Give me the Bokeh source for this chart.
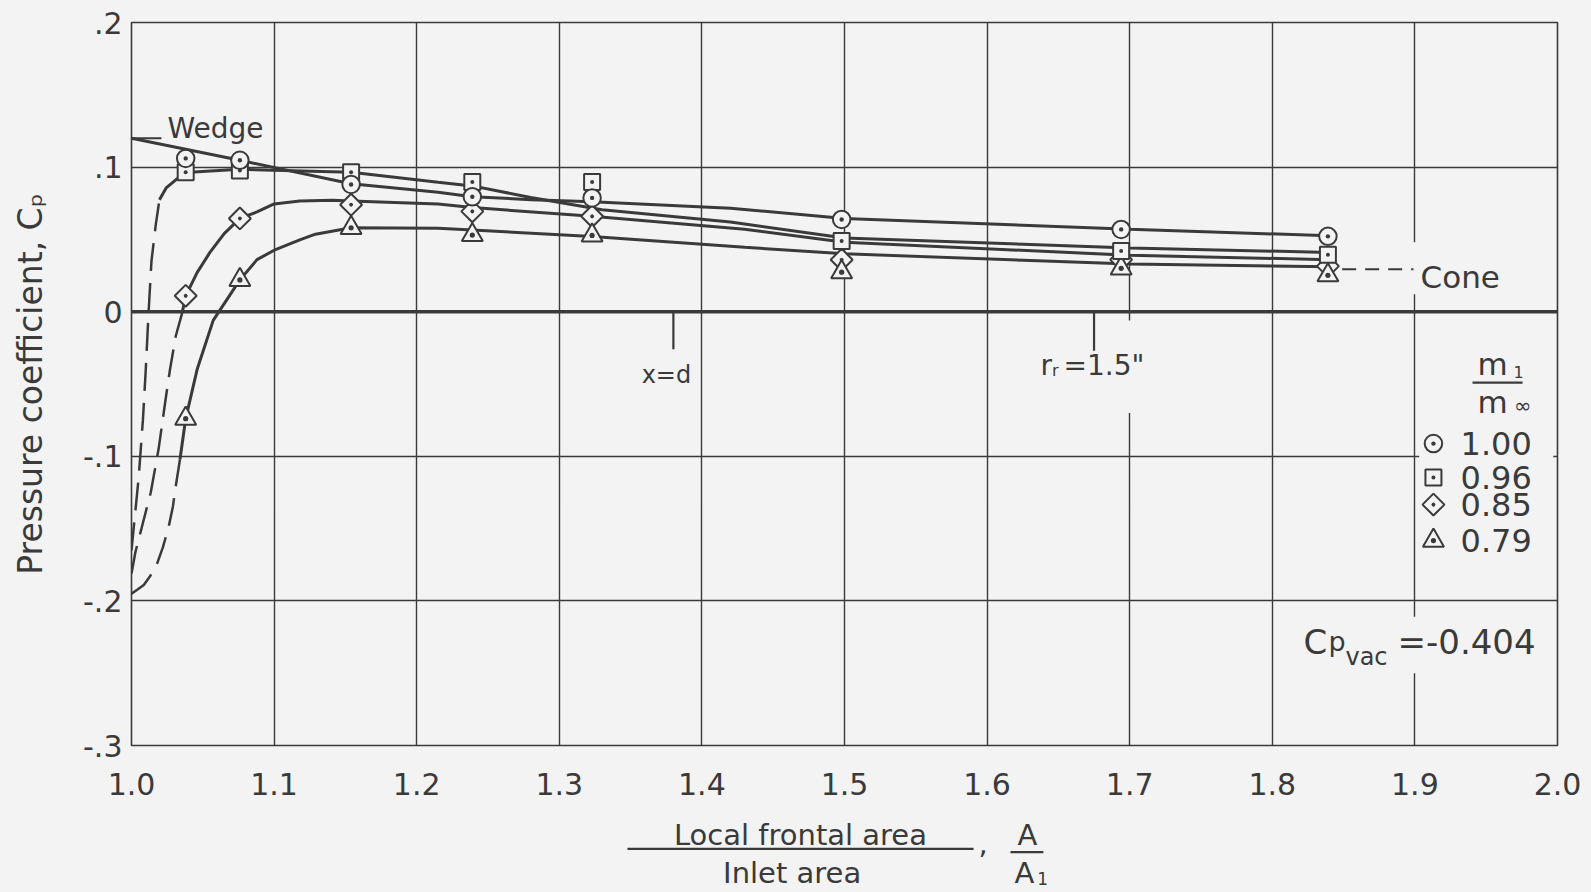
import math

from bokeh.core.properties import value
from bokeh.embed import file_html
from bokeh.layouts import column
from bokeh.models import Arrow, FixedTicker, Label, Span
from bokeh.plotting import figure
from bokeh.resources import INLINE

BG = "#f3f3f3"
INK = "#3a3a3a"
FONT = "DejaVu Sans"

# Orifice stations along the cowl: local frontal area / inlet area
area_ratio = [1.038, 1.076, 1.154, 1.239, 1.323, 1.498, 1.694, 1.839]

# Measured pressure coefficients, one list per inlet mass-flow ratio m1/m_inf
cp_m100 = [0.106, 0.1047, 0.088, 0.0795, 0.0787, 0.0638, 0.0569, 0.0521]
cp_m096 = [0.0965, 0.0977, 0.0965, 0.0897, 0.0897, 0.0489, 0.042, 0.0394]
cp_m085 = [0.011, 0.0645, 0.074, 0.0694, 0.066, 0.0359, 0.036, 0.0315]
cp_m079 = [-0.074, 0.022, 0.058, 0.053, 0.0527, 0.0273, 0.030, 0.0252]

mass_flow_labels = ["1.00", "0.96", "0.85", "0.79"]

# Faired curves through the data (solid) and their extrapolation to the lip (dashed)
fair_m100_x = [1.076, 1.154, 1.215, 1.239, 1.28, 1.323, 1.42, 1.50, 1.70, 1.84]
fair_m100_y = [0.1047, 0.0885, 0.0826, 0.0795, 0.0775, 0.076, 0.0715, 0.0645, 0.057, 0.0525]

lip_m096_x = [1.000, 1.002, 1.005, 1.008, 1.010, 1.012, 1.014, 1.017, 1.0196]
lip_m096_y = [-0.165, -0.145, -0.115, -0.075, -0.040, 0.000, 0.035, 0.060, 0.0775]
fair_m096_x = [1.0196, 1.0243, 1.0313, 1.038, 1.076, 1.154, 1.215, 1.239, 1.28, 1.33,
               1.42, 1.50, 1.70, 1.84]
fair_m096_y = [0.0775, 0.0856, 0.0914, 0.0962, 0.0985, 0.0965, 0.0895, 0.087, 0.079, 0.0705,
               0.062, 0.051, 0.044, 0.041]

lip_m085_x = [1.000, 1.0028, 1.0075, 1.0135, 1.019, 1.024, 1.027, 1.031, 1.0355]
lip_m085_y = [-0.181, -0.166, -0.148, -0.125, -0.095, -0.060, -0.040, -0.017, -0.001]
fair_m085_x = [1.0355, 1.038, 1.046, 1.055, 1.065, 1.076, 1.088, 1.10, 1.118, 1.141,
               1.154, 1.215, 1.239, 1.323, 1.43, 1.50, 1.70, 1.84]
fair_m085_y = [-0.001, 0.011, 0.027, 0.041, 0.054, 0.0645, 0.069, 0.0745, 0.0765, 0.077,
               0.0765, 0.0745, 0.072, 0.066, 0.057, 0.048, 0.039, 0.036]

lip_m079_x = [1.000, 1.0045, 1.0086, 1.013, 1.018, 1.022, 1.026, 1.029, 1.031, 1.034]
lip_m079_y = [-0.195, -0.192, -0.189, -0.183, -0.174, -0.163, -0.149, -0.135, -0.121, -0.102]
fair_m079_x = [1.034, 1.038, 1.046, 1.0573, 1.076, 1.088, 1.101, 1.118, 1.129, 1.154,
               1.215, 1.239, 1.323, 1.43, 1.50, 1.70, 1.84]
fair_m079_y = [-0.102, -0.074, -0.040, -0.006, 0.022, 0.036, 0.043, 0.0497, 0.0536, 0.058,
               0.0577, 0.0565, 0.052, 0.0445, 0.040, 0.033, 0.031]

# Two-dimensional (wedge) value at the lip
wedge_x = [1.000, 1.076]
wedge_y = [0.120, 0.1047]

# Conical-flow value at the rear of the cowl, and vacuum pressure coefficient
cone_cp = 0.0294
cp_vac = -0.404

# Stations marked on the axis: x = d and r_r = 1.5 in.
station_x = [1.38, 1.675]
station_tick = [-0.026, -0.027]

x_ticks = [1.0, 1.1, 1.2, 1.3, 1.4, 1.5, 1.6, 1.7, 1.8, 1.9, 2.0]
x_tick_labels = ["1.0", "1.1", "1.2", "1.3", "1.4", "1.5", "1.6", "1.7", "1.8", "1.9", "2.0"]
y_ticks = [0.2, 0.1, 0.0, -0.1, -0.2, -0.3]
y_tick_labels = [".2", ".1", "0", "-.1", "-.2", "-.3"]

W = 1591
MAIN_H = 815
CAP_H = 892 - MAIN_H
LEFT, RIGHT, TOP = 131, 34, 22
FRAME_H = 723
PX_PER_Y = FRAME_H / 0.5

p = figure(
    width=W, height=MAIN_H,
    x_range=(1.0, 2.0), y_range=(-0.3, 0.2),
    output_backend="svg", toolbar_location=None,
    min_border_left=LEFT, min_border_right=RIGHT, min_border_top=TOP,
    min_border_bottom=MAIN_H - TOP - FRAME_H,
    background_fill_color=BG, border_fill_color=BG,
)

p.xaxis.ticker = FixedTicker(ticks=x_ticks)
p.xaxis.major_label_overrides = dict(zip(x_ticks, x_tick_labels))
p.yaxis.ticker = FixedTicker(ticks=y_ticks)
p.yaxis.major_label_overrides = dict(zip(y_ticks, y_tick_labels))
for ax in (p.xaxis[0], p.yaxis[0]):
    ax.axis_line_color = None
    ax.major_tick_line_color = None
    ax.minor_tick_line_color = None
    ax.major_tick_in = 0
    ax.major_tick_out = 0
    ax.major_label_text_font = FONT
    ax.major_label_text_font_size = "30px"
    ax.major_label_text_color = INK
p.xaxis.major_label_standoff = 27
p.yaxis.major_label_standoff = 9

p.yaxis.axis_label = "Pressure coefficient, C\u209a"
p.yaxis.axis_label_text_font = FONT
p.yaxis.axis_label_text_font_size = "33px"
p.yaxis.axis_label_text_font_style = "normal"
p.yaxis.axis_label_text_color = INK
p.yaxis.axis_label_standoff = 30

for g in (p.xgrid[0], p.ygrid[0]):
    g.grid_line_color = INK
    g.grid_line_width = 1.4
    g.grid_line_alpha = 1.0
p.outline_line_color = INK
p.outline_line_width = 1.6

p.add_layout(Span(location=0, dimension="width", line_color=INK, line_width=3.5, level="underlay"))

# blanking boxes where lettering interrupts the grid
blank_left = [1.897, 1.635, 1.903, 1.81]
blank_right = [1.965, 1.755, 1.997, 1.993]
blank_top = [0.048, -0.006, -0.02, -0.211]
blank_bottom = [0.012, -0.07, -0.187, -0.25]
p.quad(left=blank_left, right=blank_right, top=blank_top, bottom=blank_bottom,
       fill_color=BG, line_color=None)

line_kw = dict(line_color=INK, line_width=3)
dash_kw = dict(line_color=INK, line_width=2.5, line_dash="28 12")

p.line(wedge_x, wedge_y, **line_kw)
p.line([1.0, 1.021], [wedge_y[0], wedge_y[0]], line_color=INK, line_width=2)
p.line(fair_m100_x, fair_m100_y, **line_kw)
p.line(fair_m096_x, fair_m096_y, **line_kw)
p.line(lip_m096_x, lip_m096_y, **dash_kw)
p.line(fair_m085_x, fair_m085_y, **line_kw)
p.line(lip_m085_x, lip_m085_y, **dash_kw)
p.line(fair_m079_x, fair_m079_y, **line_kw)
p.line(lip_m079_x, lip_m079_y, **dash_kw)

p.line([1.849, 1.899], [cone_cp, cone_cp], line_color=INK, line_width=2, line_dash="14 9")
p.segment(x0=station_x, y0=[0, 0], x1=station_x, y1=station_tick, line_color=INK, line_width=2.2)

mk = dict(fill_color=BG, line_color=INK, line_width=2)
p.scatter(area_ratio, cp_m085, marker="square_dot", angle=math.pi / 4, size=15.5, **mk)
p.scatter(area_ratio, cp_m079, marker="triangle_dot", size=21, **mk)
p.scatter(area_ratio, cp_m096, marker="square_dot", size=16, **mk)
p.scatter(area_ratio, cp_m100, marker="circle_dot", size=17.5, **mk)

# key
key_y = [-0.0912, -0.1147, -0.1334, -0.1583]
key_x = [1.913] * 4
p.scatter(key_x[0:1], key_y[0:1], marker="circle_dot", size=17.5, **mk)
p.scatter(key_x[1:2], key_y[1:2], marker="square_dot", size=16, **mk)
p.scatter(key_x[2:3], key_y[2:3], marker="square_dot", angle=math.pi / 4, size=15.5, **mk)
p.scatter(key_x[3:4], key_y[3:4], marker="triangle_dot", size=21, **mk)
p.text(x=[1.932] * 4, y=key_y, text=mass_flow_labels, text_font=value(FONT),
       text_font_size="32px", text_color=INK, text_baseline="middle", text_align="left")


def label(fig, x, y, text, size, align="left", angle=0.0):
    # y is the vertical middle of the lettering
    fig.add_layout(Label(x=x, y=y, text=text, text_font=FONT, text_font_size=size,
                         text_color=INK, text_align=align, text_baseline="middle",
                         angle=angle))


def bar(fig, x0, x1, y, width=2.2):
    fig.add_layout(Arrow(x_start=x0, y_start=y, x_end=x1, y_end=y, start=None, end=None,
                         line_color=INK, line_width=width))


# key heading m1 / m_inf
label(p, 1.9439, -0.0359, "m", "31px")
label(p, 1.9691, -0.0416, "1", "16px")
bar(p, 1.9404, 1.9755, -0.049)
label(p, 1.9439, -0.0627, "m", "31px")
label(p, 1.9695, -0.0654, "\u221e", "21px")

# annotations in the field
label(p, 1.0252, 0.1268, "Wedge", "28px")
label(p, 1.904, 0.0242, "Cone", "31px")
label(p, 1.3925, -0.0437, "x=d", "24px", align="right")
label(p, 1.6374, -0.0369, "r", "28px")
label(p, 1.6455, -0.0408, "r", "16px")
label(p, 1.6536, -0.0369, "=1.5\"", "28px")

label(p, 1.8219, -0.2285, "C", "34px")
label(p, 1.8394, -0.2281, "p", "27px")
label(p, 1.8513, -0.2388, "vac", "24px")
label(p, 1.8878, -0.2285, f"={cp_vac:.3f}", "34px")

# caption strip under the chart; its frame lines up with the chart frame
cap_y_top = 0.2 - (MAIN_H - TOP) / PX_PER_Y
cap_y_bot = 0.2 - (892 - TOP) / PX_PER_Y
cap = figure(
    width=W, height=CAP_H, x_range=(1.0, 2.0), y_range=(cap_y_bot, cap_y_top),
    output_backend="svg", toolbar_location=None,
    x_axis_location=None, y_axis_location=None,
    min_border=0, min_border_left=LEFT, min_border_right=RIGHT, min_border_top=0,
    min_border_bottom=0,
    background_fill_color=BG, border_fill_color=BG, outline_line_color=None,
)
cap.grid.visible = False

label(cap, 1.4691, -0.3618, "Local frontal area", "29px", align="center")
bar(cap, 1.3478, 1.5905, -0.3715)
label(cap, 1.4633, -0.3882, "Inlet area", "29px", align="center")
label(cap, 1.594, -0.368, ",", "29px")
label(cap, 1.6283, -0.3618, "A", "29px", align="center")
bar(cap, 1.6164, 1.6395, -0.3738)
label(cap, 1.6262, -0.3882, "A", "29px", align="center")
label(cap, 1.6352, -0.3918, "1", "17px")

layout = column(p, cap, spacing=0, styles={"background-color": BG})
open("out.html", "w").write(file_html(layout, INLINE))
